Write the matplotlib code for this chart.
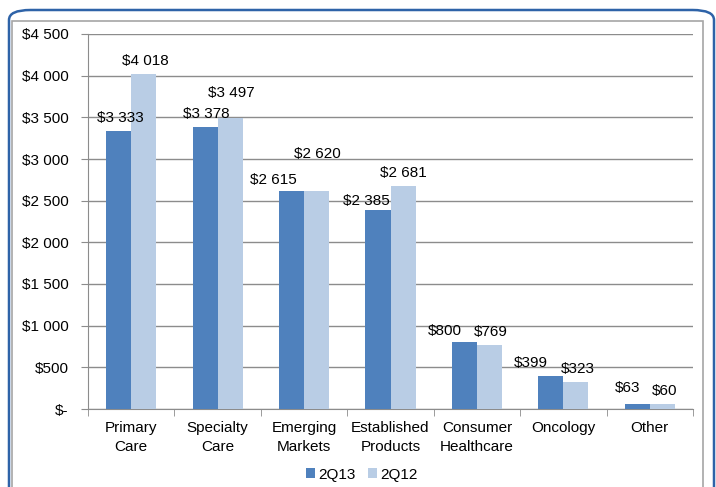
import matplotlib.pyplot as plt
import numpy as np
from matplotlib.patches import FancyBboxPatch, Rectangle
from matplotlib.ticker import FuncFormatter

plt.rcParams['font.family'] = ['Liberation Sans', 'DejaVu Sans']

# data
categories = ['Primary\nCare', 'Specialty\nCare', 'Emerging\nMarkets', 'Established\nProducts',
              'Consumer\nHealthcare', 'Oncology', 'Other']
q213 = [3333, 3378, 2615, 2385, 800, 399, 63]
q212 = [4018, 3497, 2620, 2681, 769, 323, 60]
series_names = ['2Q13', '2Q12']

# label offsets in pixels (Excel moved some labels around)
off13 = [(1.5, 13), (1.5, 13), (-18.5, 11), (-11.5, 9), (-19.5, 11), (-19.5, 13), (-10, 16)]
off12 = [(1.5, 13), (1.5, 25), (0.5, 37), (0.5, 13), (1.5, 13), (1.5, 13), (2, 13)]

dark = '#4F81BD'
light = '#B9CDE5'
grid_c = '#8C8C8C'
fs = 11

W, H = 716, 487
fig = plt.figure(figsize=(W / 100, H / 100), dpi=100)

# outer frame
fig.patches.append(Rectangle((12 / W, -0.1), (703 - 12) / W, (H - 21) / H + 0.1,
                             transform=fig.transFigure, fill=False,
                             edgecolor='#A6A6A6', lw=1.2))
fig.patches.append(FancyBboxPatch((9 / W, -0.2), (714 - 9) / W, (H - 10) / H + 0.2,
                                  boxstyle='round,pad=0,rounding_size=0.03',
                                  transform=fig.transFigure, fill=False,
                                  edgecolor='#2E63A8', lw=1.8, mutation_aspect=H / W))

ax = fig.add_axes([88 / W, (H - 409) / H, (693 - 88) / W, (409 - 34) / H])

x = np.arange(len(categories))
bw = 0.29
b1 = ax.bar(x - bw / 2, q213, bw, color=dark, label=series_names[0], zorder=3)
b2 = ax.bar(x + bw / 2, q212, bw, color=light, label=series_names[1], zorder=3)


def fmt(v):
    return '$' + f'{v:,}'.replace(',', ' ')


for bars, vals, offs in [(b1, q213, off13), (b2, q212, off12)]:
    for r, v, o in zip(bars, vals, offs):
        ax.annotate(fmt(v), (r.get_x() + r.get_width() / 2, v), xytext=o,
                    textcoords='offset pixels', ha='center', va='center',
                    fontsize=fs, zorder=4)

ax.set_xlim(-0.5, len(categories) - 0.5)
ax.set_ylim(0, 4500)
ax.set_yticks(np.arange(0, 4501, 500))
ax.yaxis.set_major_formatter(FuncFormatter(lambda v, p: '$-' if v == 0 else fmt(int(v))))
ax.set_xticks(x)
ax.set_xticklabels(categories, fontsize=fs, linespacing=1.45)
ax.set_xticks(np.arange(-0.5, len(categories)), minor=True)
ax.tick_params(axis='x', which='major', length=0, pad=8.5)
ax.tick_params(axis='x', which='minor', length=5, color=grid_c)
ax.tick_params(axis='y', length=5, color=grid_c, labelsize=fs, pad=9)
ax.grid(axis='y', color=grid_c, lw=1, zorder=0)
for s in ['top', 'right']:
    ax.spines[s].set_visible(False)
for s in ['left', 'bottom']:
    ax.spines[s].set_color(grid_c)

ax.legend(loc='upper center', bbox_to_anchor=(0.452, -0.14), ncol=2, frameon=False,
          fontsize=fs, handlelength=0.6, handleheight=0.6, handletextpad=0.2,
          columnspacing=0.8, borderaxespad=0)

fig.savefig('out.png', dpi=100)
